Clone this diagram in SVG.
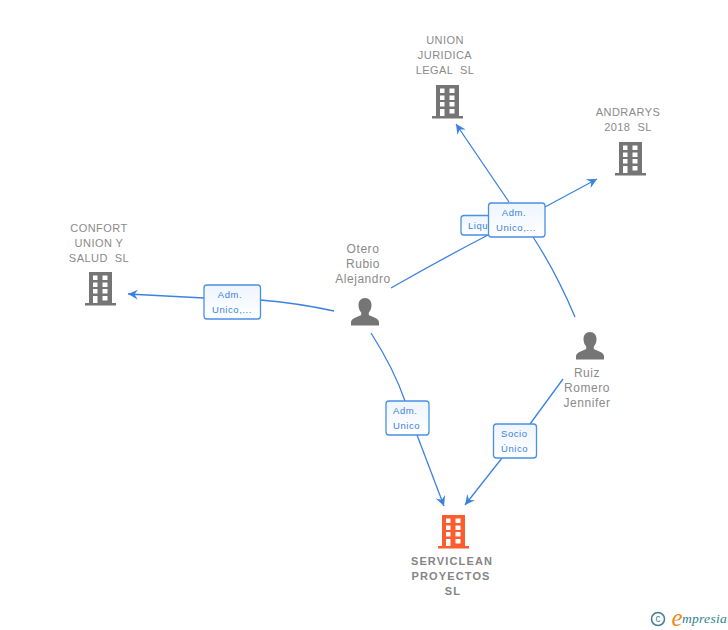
<svg xmlns="http://www.w3.org/2000/svg" width="728" height="630" viewBox="0 0 728 630">
<style>
text{font-family:"Liberation Sans",Arial,sans-serif;text-anchor:middle}
.n{font-size:11px;fill:#8a8a8a;letter-spacing:.45px}
.p{font-size:12px;fill:#8a8a8a;letter-spacing:.55px}
.b{font-size:11px;fill:#858585;font-weight:bold;letter-spacing:1.15px}
.e{font-size:9.500px;fill:#3b82e0;letter-spacing:.55px}
.box{fill:url(#g);stroke:#4a8fe3;stroke-width:1.3}
.c{fill:none;stroke:#3b82e0;stroke-width:1.3}
</style>
<defs>
<linearGradient id="g" x1="0" y1="0" x2="0" y2="1"><stop offset="0" stop-color="#eef5fd"/><stop offset="1" stop-color="#ffffff"/></linearGradient>
<marker id="a" viewBox="0 0 10 10" refX="10" refY="5" markerWidth="10" markerHeight="10" markerUnits="userSpaceOnUse" orient="auto"><path d="M0 0L10 5L0 10L3.500 5Z" fill="#3b82e0"/></marker>
<symbol id="bld" viewBox="0 0 32 34" width="32" height="34" overflow="visible">
<path fill-rule="evenodd" d="M4 0H27V31H31V33.500H0V31H4ZM8 3.500V8H12.500V3.500ZM17.500 3.500V8H22.500V3.500ZM8 10.500V15H12.500V10.500ZM17.500 10.500V15H22.500V10.500ZM8 17V21.500H12.500V17ZM17.500 17V21.500H22.500V17ZM8 24V31H12.500V24ZM17.500 24V28.500H22.500V24Z"/>
</symbol>
<symbol id="per" viewBox="0 0 28 28" width="28" height="28" overflow="visible">
<path d="M14 0C18 0 20.500 3 20.500 7C20.500 10 19.500 12.500 17.800 14.500V17C19.500 18.500 27.500 19.500 28 24V27.500H0V24C.5 19.500 8.500 18.500 10.200 17V14.500C8.500 12.500 7.500 10 7.500 7C7.500 3 10 0 14 0Z"/>
</symbol>
</defs>
<rect width="728" height="630" fill="#fff"/>
<g id="connectors">
<path class="c" d="M334 311Q297 303 260 300"/>
<path class="c" d="M204 298L128 294" marker-end="url(#a)"/>
<path class="c" d="M391 288Q440 260 488 235"/>
<path class="c" d="M545 207L597 179" marker-end="url(#a)"/>
<path class="c" d="M575 317Q556 272 533 237"/>
<path class="c" d="M509 202L456 124" marker-end="url(#a)"/>
<path class="c" d="M371 333Q394 369 405 401"/>
<path class="c" d="M417 435L444 506" marker-end="url(#a)"/>
<path class="c" d="M563 379L530 424"/>
<path class="c" d="M502 458L465 505" marker-end="url(#a)"/>
</g>
<g id="node-union-juridica" fill="#757575">
<use href="#bld" x="432" y="85"/>
<text class="n" x="445" y="44">UNION</text>
<text class="n" x="445" y="59">JURIDICA</text>
<text class="n" x="445" y="74" xml:space="preserve">LEGAL  SL</text>
</g>
<g id="node-andrarys" fill="#757575">
<use href="#bld" x="615" y="142"/>
<text class="n" x="628" y="116">ANDRARYS</text>
<text class="n" x="628" y="131" xml:space="preserve">2018  SL</text>
</g>
<g id="node-confort" fill="#757575">
<use href="#bld" x="85" y="272"/>
<text class="n" x="99" y="232">CONFORT</text>
<text class="n" x="99" y="247">UNION Y</text>
<text class="n" x="99" y="262" xml:space="preserve">SALUD  SL</text>
</g>
<g id="node-otero" fill="#757575">
<use href="#per" x="351" y="298"/>
<text class="p" x="363" y="253">Otero</text>
<text class="p" x="363" y="268">Rubio</text>
<text class="p" x="363" y="283">Alejandro</text>
</g>
<g id="node-ruiz" fill="#757575">
<use href="#per" x="576" y="332"/>
<text class="p" x="587" y="377">Ruiz</text>
<text class="p" x="587" y="392">Romero</text>
<text class="p" x="587" y="407">Jennifer</text>
</g>
<g id="node-serviclean" fill="#fb5d2e">
<use href="#bld" x="438" y="515"/>
<text class="b" x="452" y="565">SERVICLEAN</text>
<text class="b" x="451" y="580">PROYECTOS</text>
<text class="b" x="453" y="595">SL</text>
</g>
<g id="edge-label-confort">
<rect class="box" x="204" y="285" width="56.500" height="34" rx="3"/>
<text class="e" x="230" y="298">Adm.</text>
<text class="e" x="232" y="313">Unico,...</text>
</g>
<g id="edge-label-liq">
<rect class="box" x="461" y="215.500" width="32" height="19.500" rx="3"/>
<text class="e" x="468" y="229" style="text-anchor:start">Liqu</text>
</g>
<g id="edge-label-union">
<rect class="box" x="488.500" y="203" width="56.500" height="34" rx="3"/>
<text class="e" x="514" y="216">Adm.</text>
<text class="e" x="516" y="231">Unico,...</text>
</g>
<g id="edge-label-otero-serviclean">
<rect class="box" x="386" y="401" width="43" height="34" rx="3"/>
<text class="e" x="393" y="414" style="text-anchor:start">Adm.</text>
<text class="e" x="393" y="429" style="text-anchor:start">Unico</text>
</g>
<g id="edge-label-ruiz-serviclean">
<rect class="box" x="493.500" y="424" width="43" height="34" rx="3"/>
<text class="e" x="501" y="437" style="text-anchor:start">Socio</text>
<text class="e" x="501" y="452" style="text-anchor:start">Único</text>
</g>
<g id="logo">
<circle cx="658" cy="619" r="6.500" fill="none" stroke="#3f7f95" stroke-width="1.500"/>
<text x="658" y="622" style="font-size:10px;fill:#3f7f95">c</text>
<text x="677" y="626" style="font-size:25px;font-style:italic;fill:#f08a1d;font-family:'Liberation Serif',serif">e</text>
<text x="704.500" y="623" style="font-size:13.500px;font-style:italic;fill:#2f7f8f;font-family:'Liberation Serif',serif;letter-spacing:.3px">mpresia</text>
</g>
</svg>
